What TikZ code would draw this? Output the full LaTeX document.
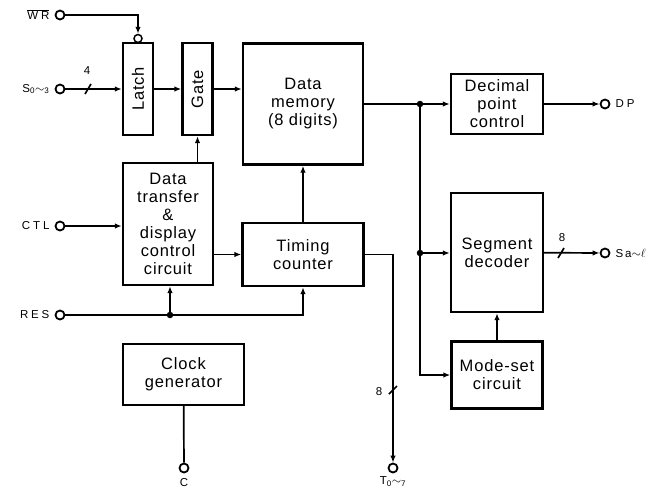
\documentclass[tikz,border=0pt]{standalone}
\usepackage{fontspec}
\usepackage{tikz}
\usetikzlibrary{arrows.meta,positioning}
\setmainfont{Liberation Sans}
\newfontfamily\boxfont[LetterSpace=5]{Liberation Sans}
\newfontfamily\termfont[LetterSpace=25]{Liberation Sans}

\begin{document}
\begin{tikzpicture}[
    x=1pt, y=-1pt,
    box/.style={draw, line width=2.4pt, align=center, inner sep=0pt, font=\boxfont\fontsize{16.5}{18}\selectfont},
    term/.style={circle, draw, fill=white, line width=1.8pt, inner sep=0pt, minimum size=9pt},
    bubble/.style={circle, draw, line width=1.5pt, inner sep=0pt, minimum size=8pt},
    dot/.style={circle, fill, inner sep=0pt, minimum size=6.5pt},
    termlabel/.style={font=\termfont\fontsize{11.5}{13}\selectfont, inner sep=2pt},
    wire/.style={line width=1.7pt},
    arrow/.style={-{Latex[length=7pt,width=5.5pt]}, line width=1.7pt}
]
\useasboundingbox (0,0) rectangle (672,491);
\fill[white] (0,0) rectangle (672,491);

\node[box, minimum width=30pt, minimum height=92pt] (latch) at (138,89) {\rotatebox{90}{Latch}};
\node[box, minimum width=30pt, minimum height=92pt] (gate) at (197.5,89) {\rotatebox{90}{Gate}};
\node[box, minimum width=120pt, minimum height=121pt] (mem) at (303,104) {Data\\memory\\(8 digits)};
\node[box, minimum width=90pt, minimum height=122pt] (xfer) at (168,224) {Data\\transfer\\\&\\display\\control\\circuit};
\node[box, minimum width=121pt, minimum height=63pt] (tc) at (303,254.5) {Timing\\counter};
\node[box, minimum width=121pt, minimum height=61pt] (clk) at (183.5,374.5) {Clock\\generator};
\node[box, minimum width=92pt, minimum height=60pt] (dpc) at (497,104) {Decimal\\point\\control};
\node[box, minimum width=92pt, minimum height=119pt] (segdec) at (497,252.5) {Segment\\decoder};
\node[box, minimum width=91pt, minimum height=67pt] (mode) at (497,375) {Mode-set\\circuit};

\node[bubble] (bub) at (138,38.5) {};
\node[dot] (j1) at (420,104) {};
\node[dot] (j2) at (420,253) {};
\node[dot] (j3) at (170,315) {};

\node[term] (wr) at (60,15) {};
\node[term] (s03) at (60,89) {};
\node[term] (ctl) at (60,226) {};
\node[term] (res) at (60,315) {};
\node[term] (cpin) at (184,468) {};
\node[term] (t07) at (393,468) {};
\node[term] (dp) at (605,104) {};
\node[term] (sal) at (605,253) {};

\node[termlabel, left=3pt of wr] (wrlabel) {$\overline{\mbox{WR}}$};
\node[termlabel, left=3pt of s03] (s03label) {S\textsubscript{0}$\sim$\textsubscript{3}};
\node[termlabel, left=3pt of ctl] (ctllabel) {CTL};
\node[termlabel, left=3pt of res] (reslabel) {RES};
\node[termlabel, below=3pt of cpin] (clabel) {C};
\node[termlabel, below=1pt of t07] (t07label) {T\textsubscript{0}$\sim$\textsubscript{7}};
\node[termlabel, right=3pt of dp] (dplabel) {DP};
\node[termlabel, right=3pt of sal] (sallabel) {S\,a$\sim$$\ell$};

\coordinate (bus4) at (88,89);
\coordinate (bus8a) at (561,253);
\coordinate (bus8b) at (393,390);
\draw[wire] ([shift={(-3,5)}]bus4) -- ([shift={(3,-5)}]bus4);
\draw[wire] ([shift={(-3,5)}]bus8a) -- ([shift={(3,-5)}]bus8a);
\draw[wire] ([shift={(-4,4)}]bus8b) -- ([shift={(4,-4)}]bus8b);
\node[termlabel] (n4) at (87,71) {4};
\node[termlabel] (n8a) at (562,238) {8};
\node[termlabel] (n8b) at (379,392) {8};

\draw[arrow] (wr) -| (bub);
\draw[arrow] (s03) -- (latch);
\draw[arrow] (latch) -- (gate);
\draw[arrow] (gate) -- (gate -| mem.west);
\draw[wire] (mem.east |- j1) -- (j1);
\draw[arrow] (j1) -- (dpc);
\draw[arrow] (dpc) -- (dp);
\draw[wire] (j1) -- (j2);
\draw[arrow] (j2) -- (segdec.west |- j2);
\draw[arrow] (j2) |- (mode.west);
\draw[arrow] (mode) -- (segdec);
\draw[arrow] (segdec) -- (sal);
\draw[arrow] (xfer.north -| gate) -- (gate);
\draw[arrow] (ctl) -- (ctl -| xfer.west);
\draw[arrow] (xfer.east |- tc) -- (tc);
\draw[arrow] (tc) -- (mem);
\draw[wire] (res) -- (j3);
\draw[arrow] (j3) -- (j3 |- xfer.south);
\draw[arrow] (j3) -| (tc.south);
\draw[arrow] (tc.east) -| (t07);
\draw[wire] (clk) -- (cpin);
\end{tikzpicture}
\end{document}
